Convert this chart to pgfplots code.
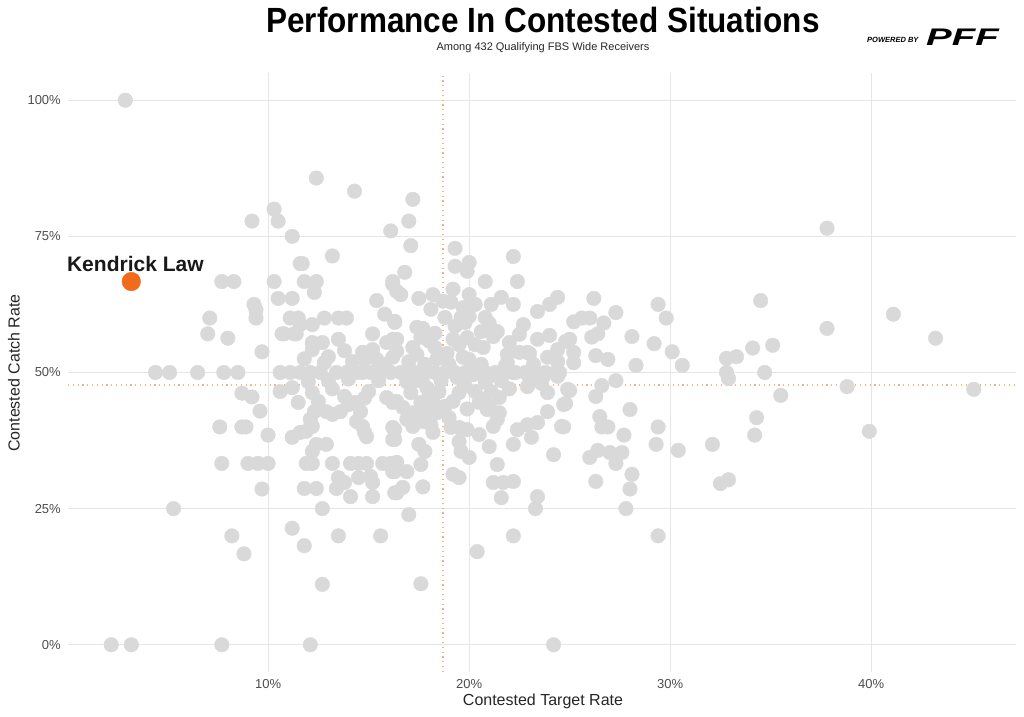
\documentclass[border=0pt]{standalone}
\usepackage{pgfplots}
\pgfplotsset{compat=1.18}
\usepackage{fontspec}
\setmainfont{Liberation Sans}
\definecolor{dotgrey}{HTML}{D9D9D9}
\definecolor{pfforange}{HTML}{F26A1B}
\definecolor{refline}{HTML}{F2B48C}
\definecolor{gridc}{HTML}{E6E6E6}
\definecolor{ticktext}{HTML}{4D4D4D}
\begin{document}
\begin{tikzpicture}[x=1bp,y=1bp]
\begin{axis}[
  at={(68bp,45bp)}, anchor=south west,
  scale only axis, width=948bp, height=599bp,
  xmin=0.05, xmax=47.2, ymin=-5, ymax=105,
  axis line style={draw=none}, tick style={draw=none},
  xtick={10,20,30,40}, xticklabels={10\%,20\%,30\%,40\%},
  ytick={0,25,50,75,100}, yticklabels={0\%,25\%,50\%,75\%,100\%},
  grid=major, grid style={color=gridc, line width=0.8bp},
  ticklabel style={font=\fontsize{13bp}{14bp}\selectfont, text=ticktext},
  yticklabel style={xshift=-3.7bp},
  xticklabel style={yshift=-3.7bp},
  clip=false,
]
\draw[refline, line width=1.1bp, dash pattern=on 1.2bp off 3.6bp] (axis cs:18.7,-5) -- (axis cs:18.7,105);
\draw[refline, line width=1.1bp, dash pattern=on 1.2bp off 3.6bp] (axis cs:0.05,47.7) -- (axis cs:47.2,47.7);
\addplot[only marks, mark=*, color=dotgrey, mark size=7.3bp] table {
x y
2.9 100
2.2 0
3.2 0
7.7 0
12.1 0
24.2 0
4.4 50
5.1 50
6.5 50
7.8 50
8.5 50
5.3 25
7.1 60
7.0 57.1
7.7 66.7
8.3 66.7
8.0 56.3
7.6 40
7.7 33.3
8.7 46.2
9.2 45.5
8.7 40
8.9 40
9.0 33.3
9.5 33.3
10.0 33.3
8.2 20
8.8 16.7
9.2 77.8
9.3 62.5
9.4 61.5
9.4 60
9.7 53.8
9.6 42.9
9.7 28.6
10.0 38.5
10.3 80
10.5 77.8
11.2 75
10.3 66.7
10.5 63.6
11.2 63.6
11.6 70
11.1 60
10.8 57.1
11.3 57.1
12.4 85.7
14.3 83.3
16.1 76
13.2 71.4
11.7 70
11.8 66.7
12.4 66.7
12.3 64.7
15.4 63.2
16.2 66.7
16.4 64.9
11.5 60
11.6 58.8
12.8 60
13.5 60
13.9 60
16.3 59.2
15.8 60.7
10.7 57.1
11.4 57.1
12.2 58.8
15.2 57.1
12.2 55.5
12.7 55.5
13.5 56.1
13.8 54
12.2 54.2
13.0 52.9
14.7 53.7
15.2 54.2
15.9 55.5
16.2 56.1
14.8 52.4
15.4 52.4
16.2 52.8
10.6 50
11.1 50
11.6 50
12.1 50
12.6 50
13.4 50
13.9 50
14.4 50
14.7 50
15.1 50
15.4 50
16.1 50
16.6 50
10.6 46.5
11.2 47.2
11.5 44.5
12.2 46.3
12.5 44.7
12.3 42.8
12.9 42.8
13.2 42.3
13.8 45.6
14.0 44.1
14.3 44.5
14.6 42.8
13.6 42.8
12.1 41.4
12.2 40.1
11.9 39.2
11.6 39
11.2 38.1
14.4 41
14.7 40.1
14.8 39
14.9 38.2
16.2 39.9
16.2 37.7
15.9 45.4
16.2 44.5
12.4 36.8
12.9 36.8
12.2 35.5
11.9 33.3
12.2 33.3
13.2 33.3
14.1 33.3
14.5 33.3
14.9 33.3
15.7 33.3
16.1 33.3
16.3 31.8
13.5 30.7
13.8 29.8
14.5 30.7
15.1 30.9
15.2 29.8
11.8 28.7
12.4 28.7
13.4 28.7
14.1 27.2
15.2 27.2
16.3 27.9
12.7 25
11.2 21.4
11.8 18.2
13.5 20
15.6 20
12.7 11.1
17.0 77.8
17.2 81.8
17.1 73.3
19.3 72.8
20.0 70.2
19.3 69.5
19.9 68.6
22.2 71.3
20.8 66.7
22.4 66.7
16.8 68.4
16.2 66.2
16.6 64.3
17.5 63.6
18.2 64.3
19.2 65.3
20.0 64.3
20.3 62.5
21.1 62.5
21.6 63.8
22.2 62.5
23.4 61.2
24.0 62.5
24.4 63.8
18.1 61.6
18.7 63.1
19.1 62.9
19.7 61.9
18.8 60.1
19.6 60.1
20.0 60.3
20.8 60.1
19.3 58.5
19.8 59.2
16.3 59.4
17.4 58.3
17.7 58.1
18.3 57.2
21.4 57.5
21.2 56.6
22.7 58.8
23.4 56.1
24.0 56.8
24.8 55.7
24.4 54.2
19.2 56.1
19.9 56.4
19.5 55.1
20.3 55.1
20.7 54.6
18.3 54.6
17.2 54.6
16.4 56.1
16.4 53.9
17.4 53.3
21.9 53.3
22.5 53.7
22.9 53.7
23.9 52.8
24.4 52
19.7 52.8
20.0 52.4
21.9 51.8
20.6 51.5
20.2 50.6
16.8 50
17.3 50
17.8 50
18.3 50
18.8 50
19.3 50
19.8 50
20.3 50
20.8 50
21.3 50
21.8 50
22.3 50
22.8 50
23.3 50
23.8 50
24.3 50
17.7 49.3
18.6 49.6
19.4 49.1
20.2 49.6
21.0 49.3
22.2 50
23.0 49.1
23.7 49.3
24.4 49.3
24.9 46.9
23.9 46.3
22.9 47.4
19.5 46.3
18.5 46.5
17.9 47.2
17.1 46.3
16.4 44.7
16.7 43.6
17.6 44.5
18.2 44.5
18.4 42.6
17.8 42.6
17.2 42.6
16.9 41.4
17.2 40.1
17.7 41
18.1 40.4
18.2 39
19.0 41.7
19.1 39.9
19.5 39.9
19.9 39.5
20.5 38.6
16.3 39.5
16.3 37.7
17.5 36.8
17.8 35.5
17.6 33.1
16.9 31.8
16.2 31.8
16.4 33.5
19.5 37.3
19.6 35.5
20.0 34.4
21.0 36.4
21.4 33.1
20.5 44.5
21.0 43.8
21.5 42.6
21.4 41.4
21.2 40.1
20.9 43.2
20.7 45
21.1 46.5
21.5 45.4
22.4 39.5
22.2 36.8
22.9 40.4
23.4 40.8
23.1 38.1
24.6 40.1
24.2 34.9
23.9 42.8
24.7 44.1
19.2 31.3
19.5 30.7
21.2 29.8
21.7 29.8
22.2 30
21.6 27
23.4 27.2
23.3 25
17.0 23.9
17.7 29
16.4 27.9
16.7 28.9
22.2 20
20.4 17.1
17.6 11.2
37.8 76.5
26.2 63.6
29.4 62.5
29.8 60
34.5 63.2
37.8 58.1
41.1 60.7
43.2 56.3
27.3 61
26.7 59.1
25.2 59.3
25.6 60
26.0 60
25.0 56.1
26.1 56.5
26.4 57.1
28.1 56.6
29.2 55.3
30.1 53.8
30.6 51.3
32.8 52.6
33.3 52.9
34.1 54.5
35.1 55
32.8 50
32.9 48.9
34.7 50
35.5 45.8
38.8 47.4
45.1 46.9
39.9 39.2
25.2 53.7
25.2 51.8
26.3 53.1
26.9 52.4
28.3 51.3
24.5 50
27.3 48.5
26.6 47.6
25.0 46.7
26.3 45.6
24.8 44.3
28.0 43.2
26.5 41.9
26.6 40
26.9 40
24.7 40
27.7 38.5
29.4 40
29.3 36.8
30.4 35.7
32.1 36.8
34.3 41.7
34.2 38.5
26.0 34.4
26.4 35.7
27.0 35.3
27.6 35.3
27.3 33.3
28.1 31.3
26.3 30
28.0 28.6
27.8 25
29.4 20
32.5 29.6
32.9 30.3
17.0 52
17.8 51.5
18.4 52.5
18.9 53.5
19.0 51.5
18.6 48.5
19.8 47.5
20.8 48.2
21.6 48.5
22.0 47
20.3 46.5
21.8 51.2
23.2 51.5
23.6 48
16.9 48.3
17.5 48.5
15.5 48.5
14.0 48.8
13.0 48.5
12.0 48.3
18.0 45.5
19.2 44.7
19.9 43.3
18.8 43.8
15.0 46.5
14.8 45.3
13.2 47
12.8 51.8
14.2 52
15.8 51.5
11.8 52.5
18.0 55.8
17.6 56.5
20.6 57.5
22.0 55.5
22.5 57
21.0 59
23.0 53.5
};
\addplot[only marks, mark=*, color=pfforange, mark size=9.3bp] table {
x y
3.2 66.7
};
\node[anchor=base, font=\fontsize{21bp}{22bp}\selectfont\bfseries, text=black!90] at (axis cs:3.4,68.6) {Kendrick Law};
\end{axis}
\node[anchor=base, font=\fontsize{35bp}{36bp}\selectfont\bfseries] at (543,684) {\scalebox{0.9}[1]{Performance In Contested Situations}};
\node[anchor=base, font=\fontsize{11bp}{12bp}\selectfont, text=black!85] at (543,666) {Among 432 Qualifying FBS Wide Receivers};
\node[anchor=base east, font=\fontsize{7.5bp}{8bp}\selectfont\bfseries\itshape] at (922,674) {POWERED BY};
\node[anchor=base west, inner sep=0pt, font=\fontsize{24bp}{24bp}\selectfont\bfseries\itshape] at (926,671) {\scalebox{1.6}[1]{PFF}};
\node[font=\fontsize{16bp}{17bp}\selectfont, text=black!85] at (543,16) {Contested Target Rate};
\node[rotate=90, font=\fontsize{16bp}{17bp}\selectfont, text=black!85] at (14,344) {Contested Catch Rate};
\pgfresetboundingbox
\useasboundingbox (0,0) rectangle (1024,717);
\end{tikzpicture}
\end{document}
